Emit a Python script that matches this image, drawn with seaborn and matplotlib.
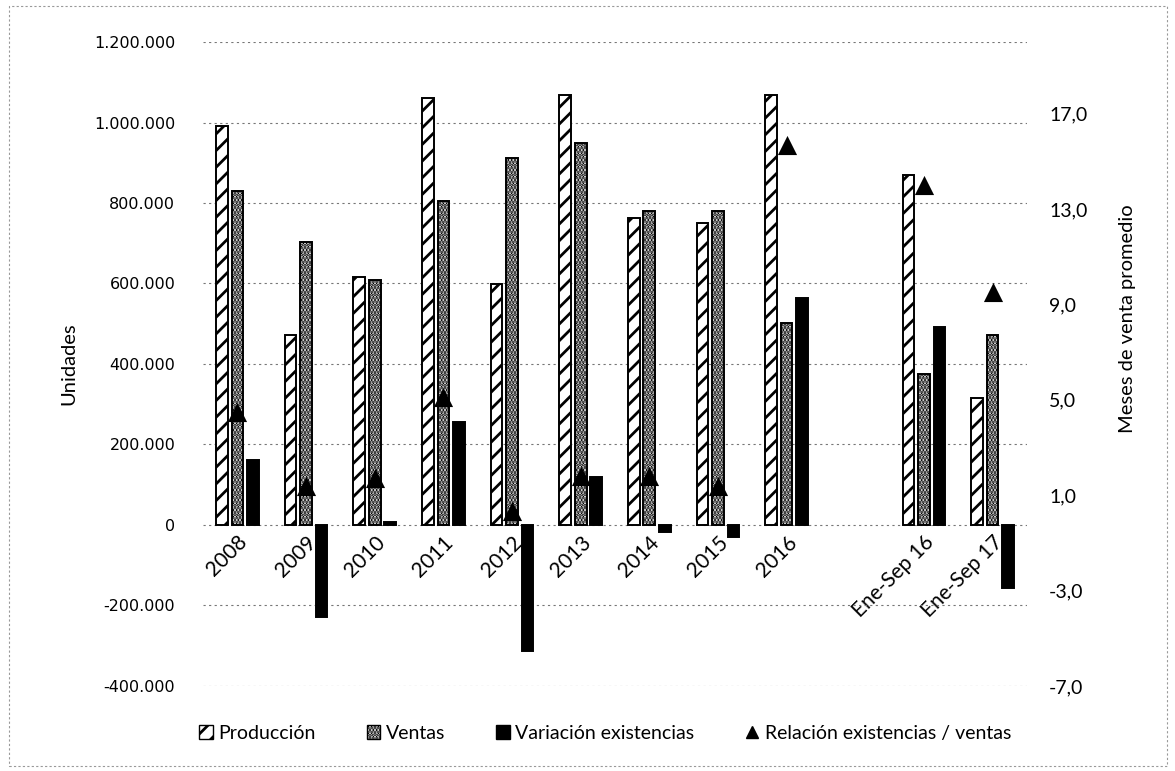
import pandas as pd
import numpy as np
import matplotlib
matplotlib.use('Agg')
import matplotlib.pyplot as plt
import seaborn as sns
from matplotlib.patches import Patch, Rectangle
from matplotlib.lines import Line2D
from matplotlib.ticker import FuncFormatter

# datos
periodos = ['2008', '2009', '2010', '2011', '2012', '2013', '2014', '2015', '2016',
            'Ene-Sep 16', 'Ene-Sep 17']
orden = periodos[:9] + [' '] + periodos[9:]   # hueco entre 2016 y Ene-Sep 16

produccion = [991000, 473000, 615000, 1061000, 598000, 1068000, 762000, 750000, 1068000,
              869000, 316000]
ventas = [829000, 702000, 608000, 805000, 912000, 949000, 780000, 780000, 503000,
          376000, 473000]
variacion = [162000, -229000, 7000, 256000, -314000, 119000, -18000, -30000, 565000,
             493000, -157000]
relacion = [4.5, 1.4, 1.7, 5.1, 0.35, 1.8, 1.8, 1.4, 15.7, 14.0, 9.5]

series = ['Producción', 'Ventas', 'Variación existencias']

df = pd.DataFrame({'periodo': periodos, 'Producción': produccion,
                   'Ventas': ventas, 'Variación existencias': variacion})
df_largo = df.melt(id_vars='periodo', var_name='serie', value_name='unidades')

fuente = ['Lato', 'DejaVu Sans']
plt.rcParams['hatch.linewidth'] = 2.0

fig = plt.figure(figsize=(11.75, 7.71), dpi=100)
ax = fig.add_axes([0.1728, 0.1103, 0.7012, 0.8352])

sns.barplot(data=df_largo, x='periodo', y='unidades', hue='serie',
            order=orden, hue_order=series, width=0.68, gap=0.25,
            palette=['white', 'white', 'black'], edgecolor='black', linewidth=1.4,
            legend=False, ax=ax)

# tramas de las barras
tramas = ['//', '.....', '']
for cont, trama in zip(ax.containers, tramas):
    for barra in cont:
        barra.set_hatch(trama)

ax.set_ylim(-400000, 1200000)
ax.set_yticks(np.arange(-400000, 1200001, 200000))
ax.yaxis.set_major_formatter(FuncFormatter(lambda v, p: f'{v:,.0f}'.replace(',', '.')))
ax.set_xlim(-0.5, len(orden) - 0.5)
ax.grid(axis='y', linestyle=(0, (2, 3)), color='#777777', linewidth=0.8)
ax.set_axisbelow(True)
for lado in ['left', 'right', 'top']:
    ax.spines[lado].set_visible(False)
ax.spines['bottom'].set_position(('data', 0))
ax.spines['bottom'].set_visible(False)
ax.tick_params(axis='both', length=0)
ax.tick_params(axis='y', labelsize=11.5, pad=20)
ax.tick_params(axis='x', pad=5)
ax.set_xlabel('')
ax.set_ylabel('Unidades', fontsize=14.5, family=fuente, labelpad=12)
for t in ax.get_xticklabels():
    t.set_rotation(45)
    t.set_ha('right')
    t.set_rotation_mode('anchor')
    t.set_family(fuente)
    t.set_fontsize(15)

# eje derecho: relacion existencias / ventas
ax2 = ax.twinx()
pos = [orden.index(p) for p in periodos]
sns.scatterplot(x=pos, y=relacion, marker='^', s=190, color='black',
                linewidth=0, ax=ax2, legend=False)
ax2.set_ylim(-7, 20)
ax2.set_yticks(np.arange(-7, 18, 4))
ax2.yaxis.set_major_formatter(FuncFormatter(lambda v, p: f'{v:.1f}'.replace('.', ',')))
ax2.set_xlim(-0.5, len(orden) - 0.5)
for lado in ['left', 'right', 'top', 'bottom']:
    ax2.spines[lado].set_visible(False)
ax2.tick_params(axis='y', length=0, labelsize=14, pad=16)
for t in ax2.get_yticklabels():
    t.set_family(fuente)
ax2.set_ylabel('Meses de venta promedio', fontsize=14.5, family=fuente)
ax2.yaxis.set_label_coords(1.112, 0.57)

# leyenda
manejadores = [
    Patch(facecolor='white', edgecolor='black', hatch='//', label='Producción'),
    Patch(facecolor='white', edgecolor='black', hatch='.....', label='Ventas'),
    Patch(facecolor='black', edgecolor='black', label='Variación existencias'),
    Line2D([], [], marker='^', color='black', linestyle='', markersize=9,
           label='Relación existencias / ventas'),
]
fig.legend(handles=manejadores, loc='center', bbox_to_anchor=(0.515, 0.049), ncol=4,
           frameon=False, prop={'family': fuente, 'size': 14},
           handlelength=0.7, handleheight=0.7, handletextpad=0.3, columnspacing=2.6)

# marco punteado del area del grafico
fig.patches.append(Rectangle((0.008, 0.006), 0.985, 0.986, transform=fig.transFigure,
                             fill=False, edgecolor='#999999', linewidth=0.8,
                             linestyle=(0, (2, 2))))

fig.savefig('out.png', dpi=100)
